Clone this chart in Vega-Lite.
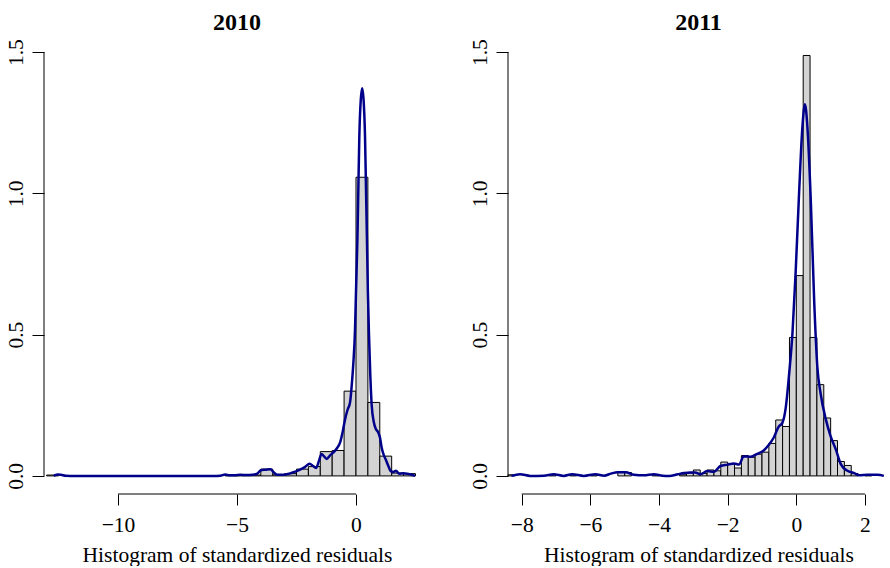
{
  "$schema": "https://vega.github.io/schema/vega-lite/v6.json",
  "padding": {"left": 0, "top": 10, "right": 0, "bottom": 0},
  "spacing": 34,
  "config": {
    "view": {"stroke": null},
    "font": "Liberation Serif",
    "axis": {
      "domain": false, "grid": false, "tickColor": "black", "tickWidth": 1,
      "labelFont": "Liberation Serif", "labelFontSize": 21.5, "labelColor": "black",
      "titleFont": "Liberation Serif", "titleFontSize": 21.5, "titleFontWeight": "normal", "titleColor": "black",
      "labelFlush": false, "labelOverlap": false
    },
    "title": {"font": "Liberation Serif", "fontSize": 24, "fontWeight": "bold", "color": "black", "anchor": "middle", "baseline": "alphabetic", "offset": -0.5}
  },
  "datasets": {
    "bars2010": [
      {"x0": -13.0, "x1": -12.5, "d": 0.003},
      {"x0": -5.5, "x1": -5.0, "d": 0.003},
      {"x0": -5.0, "x1": -4.5, "d": 0.003},
      {"x0": -4.5, "x1": -4.0, "d": 0.003},
      {"x0": -4.0, "x1": -3.5, "d": 0.024},
      {"x0": -3.5, "x1": -3.0, "d": 0.004},
      {"x0": -3.0, "x1": -2.5, "d": 0.008},
      {"x0": -2.5, "x1": -2.0, "d": 0.024},
      {"x0": -2.0, "x1": -1.5, "d": 0.033},
      {"x0": -1.5, "x1": -1.0, "d": 0.086},
      {"x0": -1.0, "x1": -0.5, "d": 0.09},
      {"x0": -0.5, "x1": 0.0, "d": 0.30},
      {"x0": 0.0, "x1": 0.5, "d": 1.057},
      {"x0": 0.5, "x1": 1.0, "d": 0.26},
      {"x0": 1.0, "x1": 1.5, "d": 0.07},
      {"x0": 1.5, "x1": 2.0, "d": 0.01},
      {"x0": 2.0, "x1": 2.5, "d": 0.008}
    ],
    "dens2010": [
      {"x": -12.7, "y": 0}, {"x": -12.55, "y": 0.005}, {"x": -12.4, "y": 0.004}, {"x": -12.2, "y": 0.0005}, {"x": -12.0, "y": 0},
      {"x": -6.0, "y": 0}, {"x": -5.7, "y": 0.001}, {"x": -5.5, "y": 0.005}, {"x": -5.3, "y": 0.002}, {"x": -5.1, "y": 0.002},
      {"x": -4.85, "y": 0.004}, {"x": -4.6, "y": 0.003}, {"x": -4.35, "y": 0.004}, {"x": -4.15, "y": 0.008}, {"x": -4.0, "y": 0.02},
      {"x": -3.8, "y": 0.022}, {"x": -3.6, "y": 0.024}, {"x": -3.45, "y": 0.012}, {"x": -3.3, "y": 0.004}, {"x": -3.05, "y": 0.004},
      {"x": -2.8, "y": 0.008}, {"x": -2.56, "y": 0.015}, {"x": -2.35, "y": 0.022}, {"x": -2.15, "y": 0.031}, {"x": -1.95, "y": 0.043},
      {"x": -1.8, "y": 0.035}, {"x": -1.68, "y": 0.028}, {"x": -1.55, "y": 0.055}, {"x": -1.45, "y": 0.078}, {"x": -1.35, "y": 0.07},
      {"x": -1.23, "y": 0.06}, {"x": -1.1, "y": 0.072}, {"x": -0.95, "y": 0.083}, {"x": -0.8, "y": 0.098}, {"x": -0.67, "y": 0.118},
      {"x": -0.55, "y": 0.16}, {"x": -0.46, "y": 0.2}, {"x": -0.35, "y": 0.235}, {"x": -0.25, "y": 0.26}, {"x": -0.17, "y": 0.33},
      {"x": -0.11, "y": 0.4}, {"x": -0.04, "y": 0.52}, {"x": 0.0, "y": 0.65}, {"x": 0.06, "y": 0.84}, {"x": 0.1, "y": 1.02},
      {"x": 0.14, "y": 1.2}, {"x": 0.2, "y": 1.33}, {"x": 0.26, "y": 1.372}, {"x": 0.32, "y": 1.33}, {"x": 0.38, "y": 1.2},
      {"x": 0.42, "y": 1.02}, {"x": 0.46, "y": 0.84}, {"x": 0.5, "y": 0.65}, {"x": 0.55, "y": 0.49}, {"x": 0.6, "y": 0.36},
      {"x": 0.66, "y": 0.25}, {"x": 0.75, "y": 0.19}, {"x": 0.84, "y": 0.165}, {"x": 0.93, "y": 0.155}, {"x": 1.01, "y": 0.135},
      {"x": 1.08, "y": 0.1}, {"x": 1.15, "y": 0.078}, {"x": 1.25, "y": 0.058}, {"x": 1.36, "y": 0.035}, {"x": 1.46, "y": 0.017},
      {"x": 1.57, "y": 0.014}, {"x": 1.68, "y": 0.018}, {"x": 1.82, "y": 0.008}, {"x": 1.99, "y": 0.009}, {"x": 2.15, "y": 0.008},
      {"x": 2.3, "y": 0.005}, {"x": 2.48, "y": 0.0}
    ],
    "bars2011": [
      {"x0": -8.4, "x1": -8.2, "d": 0.004},
      {"x0": -7.2, "x1": -7.0, "d": 0.004},
      {"x0": -6.6, "x1": -6.4, "d": 0.004},
      {"x0": -6.0, "x1": -5.8, "d": 0.004},
      {"x0": -5.2, "x1": -5.0, "d": 0.012},
      {"x0": -5.0, "x1": -4.8, "d": 0.012},
      {"x0": -4.2, "x1": -4.0, "d": 0.004},
      {"x0": -3.4, "x1": -3.2, "d": 0.004},
      {"x0": -3.2, "x1": -3.0, "d": 0.01},
      {"x0": -3.0, "x1": -2.8, "d": 0.021},
      {"x0": -2.8, "x1": -2.6, "d": 0.009},
      {"x0": -2.6, "x1": -2.4, "d": 0.021},
      {"x0": -2.4, "x1": -2.2, "d": 0.018},
      {"x0": -2.2, "x1": -2.0, "d": 0.049},
      {"x0": -2.0, "x1": -1.8, "d": 0.042},
      {"x0": -1.8, "x1": -1.6, "d": 0.028},
      {"x0": -1.6, "x1": -1.4, "d": 0.072},
      {"x0": -1.4, "x1": -1.2, "d": 0.066},
      {"x0": -1.2, "x1": -1.0, "d": 0.077},
      {"x0": -1.0, "x1": -0.8, "d": 0.084},
      {"x0": -0.8, "x1": -0.6, "d": 0.115},
      {"x0": -0.6, "x1": -0.4, "d": 0.198},
      {"x0": -0.4, "x1": -0.2, "d": 0.175},
      {"x0": -0.2, "x1": 0.0, "d": 0.49},
      {"x0": 0.0, "x1": 0.2, "d": 0.709},
      {"x0": 0.2, "x1": 0.4, "d": 1.488},
      {"x0": 0.4, "x1": 0.6, "d": 0.49},
      {"x0": 0.6, "x1": 0.8, "d": 0.323},
      {"x0": 0.8, "x1": 1.0, "d": 0.205},
      {"x0": 1.0, "x1": 1.2, "d": 0.125},
      {"x0": 1.2, "x1": 1.4, "d": 0.051},
      {"x0": 1.4, "x1": 1.6, "d": 0.037},
      {"x0": 1.6, "x1": 1.8, "d": 0.008},
      {"x0": 2.0, "x1": 2.2, "d": 0.004}
    ],
    "dens2011": [
      {"x": -8.3, "y": 0}, {"x": -8.05, "y": 0.006}, {"x": -7.75, "y": 0.0}, {"x": -7.35, "y": 0.001}, {"x": -7.07, "y": 0.006},
      {"x": -6.78, "y": 0.0}, {"x": -6.53, "y": 0.006}, {"x": -6.19, "y": 0}, {"x": -5.85, "y": 0.006}, {"x": -5.6, "y": 0.001},
      {"x": -5.4, "y": 0.008}, {"x": -5.21, "y": 0.013}, {"x": -4.97, "y": 0.013}, {"x": -4.73, "y": 0.004}, {"x": -4.44, "y": 0.002},
      {"x": -4.15, "y": 0.006}, {"x": -3.9, "y": 0.001}, {"x": -3.7, "y": 0.0}, {"x": -3.45, "y": 0.006}, {"x": -3.27, "y": 0.01},
      {"x": -3.1, "y": 0.012}, {"x": -2.95, "y": 0.012}, {"x": -2.79, "y": 0.006}, {"x": -2.6, "y": 0.017}, {"x": -2.4, "y": 0.015},
      {"x": -2.21, "y": 0.035}, {"x": -2.01, "y": 0.04}, {"x": -1.82, "y": 0.044}, {"x": -1.67, "y": 0.04}, {"x": -1.53, "y": 0.07},
      {"x": -1.33, "y": 0.068}, {"x": -1.14, "y": 0.078}, {"x": -0.95, "y": 0.09}, {"x": -0.8, "y": 0.11}, {"x": -0.66, "y": 0.135},
      {"x": -0.51, "y": 0.175}, {"x": -0.41, "y": 0.187}, {"x": -0.31, "y": 0.24}, {"x": -0.21, "y": 0.36}, {"x": -0.11, "y": 0.51},
      {"x": -0.02, "y": 0.72}, {"x": 0.08, "y": 1.0}, {"x": 0.18, "y": 1.24}, {"x": 0.25, "y": 1.315}, {"x": 0.32, "y": 1.24},
      {"x": 0.42, "y": 0.98}, {"x": 0.52, "y": 0.62}, {"x": 0.61, "y": 0.39}, {"x": 0.71, "y": 0.29}, {"x": 0.86, "y": 0.2},
      {"x": 1.0, "y": 0.14}, {"x": 1.15, "y": 0.094}, {"x": 1.3, "y": 0.041}, {"x": 1.49, "y": 0.018}, {"x": 1.69, "y": 0.01},
      {"x": 1.83, "y": 0.002}, {"x": 2.08, "y": 0.004}, {"x": 2.37, "y": 0.004}, {"x": 2.55, "y": 0.0}
    ]
  },
  "hconcat": [
    {
      "width": 386, "height": 460,
      "title": "2010",
      "layer": [
        {
          "data": {"name": "bars2010"},
          "mark": {"type": "rect", "fill": "#D3D3D3", "stroke": "black", "strokeWidth": 1},
          "encoding": {
            "x": {"field": "x0", "type": "quantitative", "scale": {"domain": [-13.11, 3.11], "nice": false, "zero": false},
                  "axis": {"values": [-10, -5, 0], "title": "Histogram of standardized residuals", "tickSize": 11, "labelPadding": 9, "titlePadding": 8.5, "labelFont": "Liberation Serif", "titleFont": "Liberation Serif"}},
            "x2": {"field": "x1"},
            "y": {"field": "d", "type": "quantitative", "scale": {"domain": [-0.064, 1.564], "nice": false, "zero": false},
                  "axis": {"values": [0, 0.5, 1, 1.5], "format": ".1f", "title": null, "tickSize": 12, "labelPadding": 9.5, "labelAngle": -90, "labelAlign": "center", "labelBaseline": "alphabetic", "minExtent": 44, "maxExtent": 44, "labelFont": "Liberation Serif"}},
            "y2": {"datum": 0}
          }
        },
        {
          "data": {"name": "dens2010"},
          "mark": {"type": "line", "color": "#00008B", "strokeWidth": 2.5, "interpolate": "monotone"},
          "encoding": {"x": {"field": "x", "type": "quantitative"}, "y": {"field": "y", "type": "quantitative"}}
        },
        {
          "data": {"values": [{}]},
          "mark": {"type": "rule", "color": "black", "strokeWidth": 1},
          "encoding": {"x": {"datum": -10}, "x2": {"datum": 0}, "y": {"datum": -0.064}}
        },
        {
          "data": {"values": [{}]},
          "mark": {"type": "rule", "color": "black", "strokeWidth": 1},
          "encoding": {"x": {"datum": -13.11}, "y": {"datum": 0}, "y2": {"datum": 1.5}}
        }
      ]
    },
    {
      "width": 381, "height": 460,
      "title": "2011",
      "layer": [
        {
          "data": {"name": "bars2011"},
          "mark": {"type": "rect", "fill": "#D3D3D3", "stroke": "black", "strokeWidth": 1},
          "encoding": {
            "x": {"field": "x0", "type": "quantitative", "scale": {"domain": [-8.4, 2.7], "nice": false, "zero": false},
                  "axis": {"values": [-8, -6, -4, -2, 0, 2], "title": "Histogram of standardized residuals", "tickSize": 11, "labelPadding": 9, "titlePadding": 8.5, "labelFont": "Liberation Serif", "titleFont": "Liberation Serif"}},
            "x2": {"field": "x1"},
            "y": {"field": "d", "type": "quantitative", "scale": {"domain": [-0.064, 1.564], "nice": false, "zero": false},
                  "axis": {"values": [0, 0.5, 1, 1.5], "format": ".1f", "title": null, "tickSize": 12, "labelPadding": 9.5, "labelAngle": -90, "labelAlign": "center", "labelBaseline": "alphabetic", "minExtent": 44, "maxExtent": 44, "labelFont": "Liberation Serif"}},
            "y2": {"datum": 0}
          }
        },
        {
          "data": {"name": "dens2011"},
          "mark": {"type": "line", "color": "#00008B", "strokeWidth": 2.5, "interpolate": "monotone"},
          "encoding": {"x": {"field": "x", "type": "quantitative"}, "y": {"field": "y", "type": "quantitative"}}
        },
        {
          "data": {"values": [{}]},
          "mark": {"type": "rule", "color": "black", "strokeWidth": 1},
          "encoding": {"x": {"datum": -8}, "x2": {"datum": 2}, "y": {"datum": -0.064}}
        },
        {
          "data": {"values": [{}]},
          "mark": {"type": "rule", "color": "black", "strokeWidth": 1},
          "encoding": {"x": {"datum": -8.4}, "y": {"datum": 0}, "y2": {"datum": 1.5}}
        }
      ]
    }
  ]
}
